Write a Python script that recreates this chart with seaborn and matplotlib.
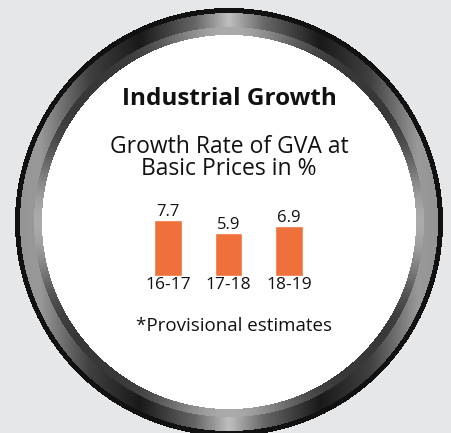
import numpy as np
import pandas as pd
import matplotlib
matplotlib.use("Agg")
import matplotlib.pyplot as plt
import seaborn as sns

# chart data
seasons = ["16-17", "17-18", "18-19"]
growth = [7.7, 5.9, 6.9]

title = "Industrial Growth"
subtitle = "Growth Rate of GVA at\nBasic Prices in %"
note = "*Provisional estimates"

sns.set_theme(style="white")
plt.rcParams["font.family"] = ["Open Sans", "DejaVu Sans"]

W, H = 451, 433
fig = plt.figure(figsize=(W / 100, H / 100), dpi=100)
fig.patch.set_facecolor("#E6E7E8")

# background axes in pixel coordinates
bg = fig.add_axes([0, 0, 1, 1])
bg.set_xlim(0, W)
bg.set_ylim(H, 0)
bg.axis("off")

# metallic ring, drawn as an image
cx, cy = 229, 222
r_out, r_main, r_inner, r_white = 214, 209, 195, 187
yy, xx = np.mgrid[0:H, 0:W] + 0.5
rr = np.hypot(xx - cx, yy - cy)
th = np.arctan2(yy - cy, xx - cx)
img = np.zeros((H, W, 4))

main_g = np.interp(xx, [15, 40, 90, 140, 195, 229, 265, 320, 370, 418, 443],
                   [0.58, 0.60, 0.25, 0.10, 0.40, 0.75, 0.40, 0.10, 0.25, 0.60, 0.58])
inner_g = 0.22 + 0.45 * np.abs(np.cos(2 * th)) ** 4
gray = np.where(rr > r_main, 0.07, np.where(rr > r_inner, main_g, inner_g))
mask = (rr <= r_out) & (rr > r_white)
for k in range(3):
    img[..., k] = np.where(mask, gray, 1.0)
img[..., 3] = np.where(rr <= r_out, 1.0, 0.0)
bg.imshow(img, extent=(0, W, H, 0), interpolation="bilinear", zorder=1)

bg.text(229, 99, title, ha="center", va="center", fontsize=17.5,
        fontweight="bold", color="#111111", zorder=3)
bg.text(229, 158, subtitle, ha="center", va="center", fontsize=16.5,
        color="#111111", linespacing=0.9, zorder=3)
bg.text(234, 326, note, ha="center", va="center", fontsize=13.5,
        color="#111111", zorder=3)

# bar chart
df = pd.DataFrame({"season": seasons, "growth": growth})
step = 60.5
left = 168 - step / 2
ax = fig.add_axes([left / W, (H - 276) / H, 3 * step / W, 72.7 / H])
sns.barplot(data=df, x="season", y="growth", color="#EF703A", width=0.45,
            saturation=1, ax=ax)
ax.set_xlim(-0.5, 2.5)
ax.set_ylim(0, 10)
ax.patch.set_alpha(0)
for s in ax.spines.values():
    s.set_visible(False)
ax.set_yticks([])
ax.set_xlabel("")
ax.set_ylabel("")
ax.tick_params(axis="x", length=0, pad=1, labelsize=12.5, labelcolor="#111111")
for c in ax.containers:
    ax.bar_label(c, labels=[f"{v:.1f}" for v in growth], padding=0,
                 fontsize=12, color="#111111")

fig.savefig("out.png", dpi=100, facecolor=fig.get_facecolor())
